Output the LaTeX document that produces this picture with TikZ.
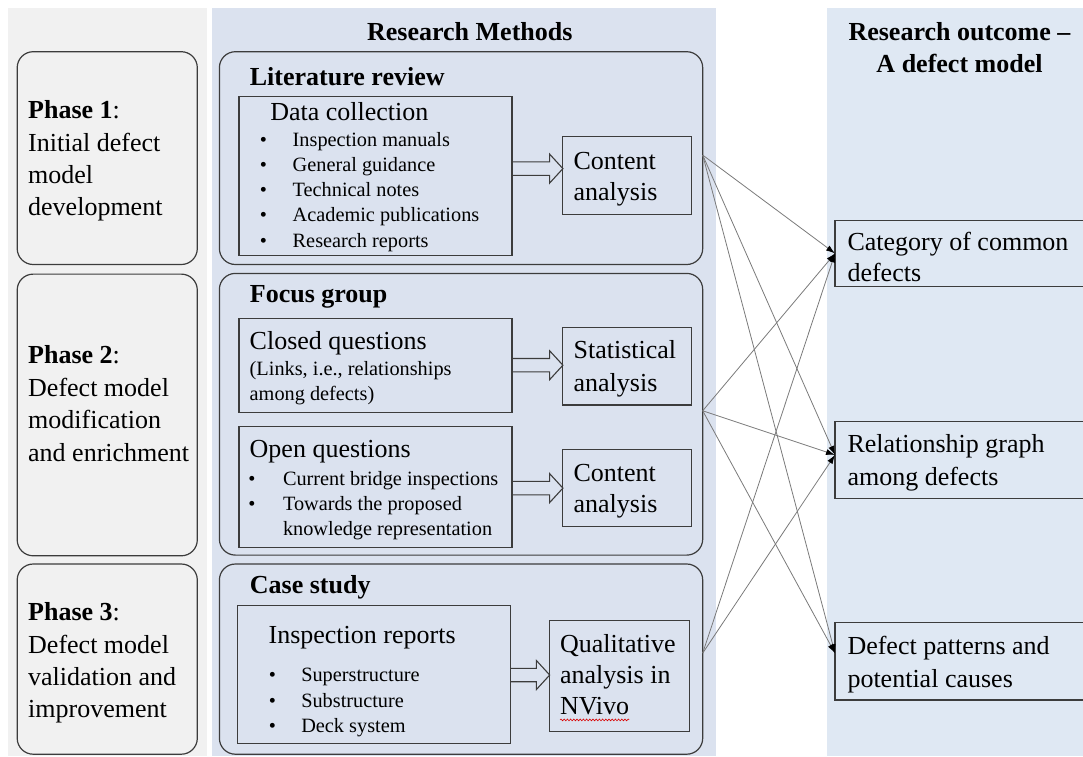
\documentclass[tikz,border=0pt]{standalone}
\usepackage{fontspec}
\setmainfont{Liberation Serif}
\usetikzlibrary{arrows.meta,calc,decorations.pathmorphing}

\definecolor{graypanel}{HTML}{F1F1F1}
\definecolor{methodpanel}{HTML}{DBE2EF}
\definecolor{outcomepanel}{HTML}{DFE8F3}
\definecolor{edge}{HTML}{3C3C3C}
\definecolor{linkgray}{HTML}{7A7A7A}

\newcommand\fbig{\fontsize{26}{32}\selectfont}
\newcommand\fsmall{\fontsize{20.3}{25}\selectfont}
% hollow block arrow between two boxes; #3 is the y of its axis
\newcommand\hollowarr[3]{%
  \draw[harrow] let \p1=(#1.east), \p2=(#2.west), \p3=(0,#3) in
    (\x1,\y3+6.7pt) -- (\x2-13.3pt,\y3+6.7pt) -- (\x2-13.3pt,\y3+14.5pt) -- (\x2,\y3)
    -- (\x2-13.3pt,\y3-14.5pt) -- (\x2-13.3pt,\y3-6.7pt) -- (\x1,\y3-6.7pt);}

\tikzset{
  lbl/.style={font=\fbig, anchor=base west, inner sep=0pt, outer sep=0pt},
  lbls/.style={font=\fsmall, anchor=base west, inner sep=0pt, outer sep=0pt},
  ttl/.style={font=\fbig\bfseries, anchor=base west, inner sep=0pt},
  hdr/.style={font=\fbig\bfseries, anchor=base, inner sep=0pt},
  bul/.style={font=\fsmall, anchor=base, inner sep=0pt},
  phasebox/.style={draw=edge, line width=1.2pt, rounded corners=16pt, fill=graypanel,
    anchor=north west, inner sep=0pt, outer sep=0pt},
  methodbox/.style={draw=edge, line width=1.2pt, rounded corners=16pt, fill=methodpanel,
    anchor=north west, inner sep=0pt, outer sep=0pt},
  sqbox/.style={draw=edge, line width=1.1pt, fill=methodpanel,
    anchor=north west, inner sep=0pt, outer sep=0pt},
  outbox/.style={draw=edge, line width=1.1pt, fill=outcomepanel,
    anchor=north west, inner sep=0pt, outer sep=0pt},
  link/.style={draw=linkgray, line width=0.8pt, -{Latex[length=9pt,width=6pt,color=black]}},
  harrow/.style={draw=edge, line width=1.1pt, line join=miter},
}

\begin{document}
\begin{tikzpicture}[x=1pt, y=-1pt]
\useasboundingbox (0,0) rectangle (1083,756);
\clip (0,0) rectangle (1083,756);

% column backgrounds
\fill[graypanel] (8.3,8.3) rectangle (206.6,756);
\fill[methodpanel] (211.8,8.3) rectangle (716,756);
\fill[outcomepanel] (826.7,8.3) rectangle (1083,756);

% column headings
\node[hdr] (hm) at (469.8,40.6) {Research Methods};
\node[hdr] (ho1) at (959.5,40.9) {Research outcome –};
\node[hdr] (ho2) at (959.5,72) {A defect model};

% phase boxes
\node[phasebox, minimum width=180.1, minimum height=212.8] (ph1) at (17.2,51.7) {};
\node[phasebox, minimum width=180.1, minimum height=281.7] (ph2) at (17.2,274.1) {};
\node[phasebox, minimum width=180.1, minimum height=190.2] (ph3) at (17.2,564) {};

\foreach \t [count=\i] in {{\textbf{Phase 1}:}, Initial defect, model, development}
  \node[lbl] (ph1t\i) at (28.2,{118.8+32.2*(\i-1)}) {\t};
\foreach \t [count=\i] in {{\textbf{Phase 2}:}, Defect model, modification, and enrichment}
  \node[lbl] (ph2t\i) at (28.2,{363.9+32.4*(\i-1)}) {\t};
\foreach \t [count=\i] in {{\textbf{Phase 3}:}, Defect model, validation and, improvement}
  \node[lbl] (ph3t\i) at (28.2,{620.9+32.1*(\i-1)}) {\t};

% method boxes
\node[methodbox, minimum width=483.3, minimum height=212.8] (lit) at (219.4,51.7) {};
\node[methodbox, minimum width=483.3, minimum height=281.7] (foc) at (219.4,273.4) {};
\node[methodbox, minimum width=483.3, minimum height=190.2] (cas) at (219.4,564) {};

% literature review
\node[ttl] (litt) at (249.7,85) {Literature review};
\node[sqbox, minimum width=273, minimum height=158.7] (dc) at (239,96.8) {};
\node[lbl] (dct) at (270.3,120.5) {Data collection};
\foreach \t [count=\i] in {Inspection manuals, General guidance, Technical notes,
    Academic publications, Research reports}{
  \node[bul] (dcb\i) at (263.4,{146.3+25.2*(\i-1)}) {•};
  \node[lbls] (dci\i) at (292.7,{146.3+25.2*(\i-1)}) {\t};
}
\node[sqbox, minimum width=128.4, minimum height=78.3] (ca1) at (562.9,136.4) {};
\node[lbl] (ca1a) at (573.6,169) {Content};
\node[lbl] (ca1b) at (573.6,200.8) {analysis};
\hollowarr{dc}{ca1}{168.6}

% focus group
\node[ttl] (foct) at (249.7,302.7) {Focus group};
\node[sqbox, minimum width=273, minimum height=94] (cq) at (239,318.2) {};
\node[lbl] (cqt) at (249.7,349.2) {Closed questions};
\node[lbls] (cqa) at (249.7,375) {(Links, i.e., relationships};
\node[lbls] (cqb) at (249.7,400.9) {among defects)};
\node[sqbox, minimum width=128.4, minimum height=77.9] (sa) at (562.9,327.1) {};
\node[lbl] (saa) at (573.6,358.3) {Statistical};
\node[lbl] (sab) at (573.6,391.2) {analysis};
\hollowarr{cq}{sa}{365.2}

\node[sqbox, minimum width=273, minimum height=120.5] (oq) at (239,426.7) {};
\node[lbl] (oqt) at (249.7,457.7) {Open questions};
\node[bul] (oqb1) at (252,485.2) {•};
\node[lbls] (oqi1) at (283,485.2) {Current bridge inspections};
\node[bul] (oqb2) at (252,510) {•};
\node[lbls] (oqi2) at (283,510) {Towards the proposed};
\node[lbls] (oqi3) at (283,535) {knowledge representation};
\node[sqbox, minimum width=128.4, minimum height=77.5] (ca2) at (562.9,449.4) {};
\node[lbl] (ca2a) at (573.6,481.2) {Content};
\node[lbl] (ca2b) at (573.6,512.4) {analysis};
\hollowarr{oq}{ca2}{488.1}

% case study
\node[ttl] (cast) at (249.7,593.4) {Case study};
\node[sqbox, minimum width=273.1, minimum height=138.5] (ir) at (237.6,605.4) {};
\node[lbl] (irt) at (268.6,643.3) {Inspection reports};
\foreach \t [count=\i] in {Superstructure, Substructure, Deck system}{
  \node[bul] (irb\i) at (272.4,{681.9+25.4*(\i-1)}) {•};
  \node[lbls] (iri\i) at (301.3,{681.9+25.4*(\i-1)}) {\t};
}
\node[sqbox, minimum width=139.9, minimum height=110.4] (qa) at (549.7,620.7) {};
\node[lbl] (qaa) at (560,652.5) {Qualitative};
\node[lbl] (qab) at (560,683.7) {analysis in};
\node[lbl] (qac) at (560,714.9) {NVivo};
\draw[red!85!black, line width=0.6pt, decorate,
  decoration={snake, segment length=3.2pt, amplitude=0.9pt}]
  ($(qac.base west)+(0,5)$) -- ($(qac.base east)+(0,5)$);
\hollowarr{ir}{qa}{675}

% outcome boxes
\node[outbox, minimum width=265, minimum height=66.4] (cat) at (835,220.2) {};
\node[lbl] (cata) at (847.5,250) {Category of common};
\node[lbl] (catb) at (847.5,281.2) {defects};
\node[outbox, minimum width=265, minimum height=77.2] (rel) at (835,421.3) {};
\node[lbl] (rela) at (847.5,452.8) {Relationship graph};
\node[lbl] (relb) at (847.5,485.4) {among defects};
\node[outbox, minimum width=265, minimum height=77.6] (def) at (835,622.4) {};
\node[lbl] (defa) at (847.5,654.3) {Defect patterns and};
\node[lbl] (defb) at (847.5,687.2) {potential causes};

% links from methods to outcomes
\coordinate (litR) at ($(lit.east)+(0,-3)$);
\coordinate (focR) at ($(foc.east)+(0,-3.5)$);
\coordinate (casR) at ($(cas.east)+(0,-6)$);
\coordinate (relL) at ($(rel.west)+(0,-5)$);
\coordinate (defL) at ($(def.west)+(0,-8)$);
\draw[link] (litR) -- (cat.west);
\draw[link] (litR) -- (relL);
\draw[link] (litR) -- (defL);
\draw[link] (focR) -- (cat.west);
\draw[link] (focR) -- (relL);
\draw[link] (focR) -- (defL);
\draw[link] (casR) -- (cat.west);
\draw[link] (casR) -- (relL);
\end{tikzpicture}
\end{document}
